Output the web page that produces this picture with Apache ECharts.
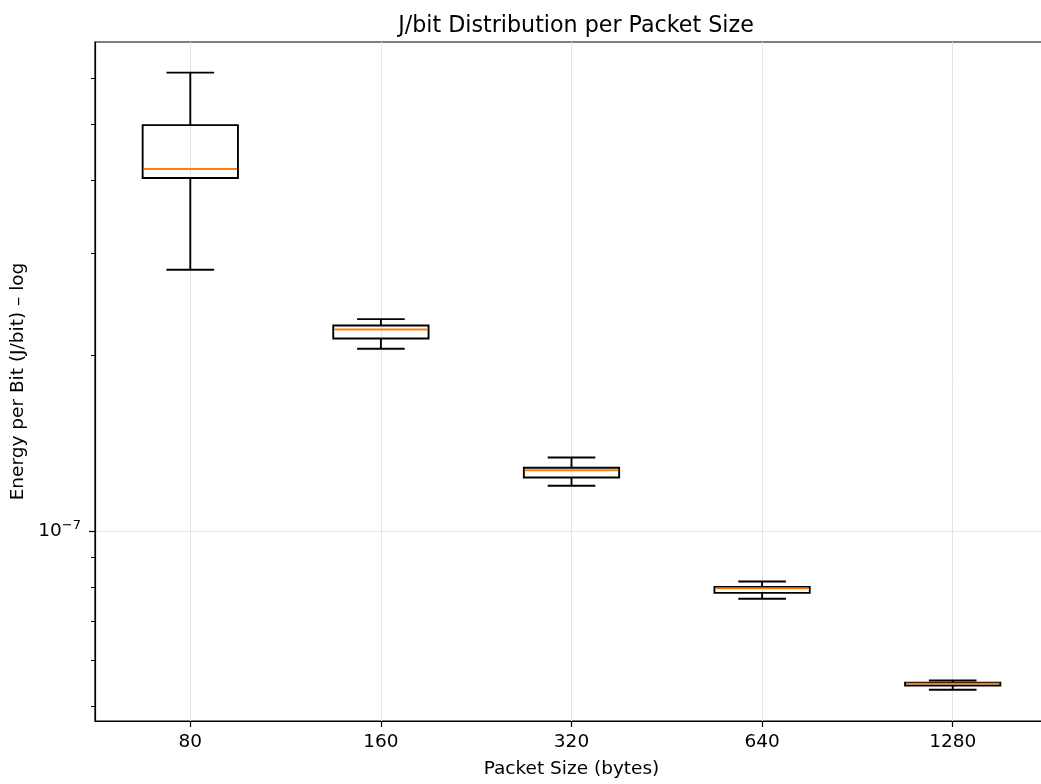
<!DOCTYPE html>
<html><head><meta charset="utf-8">
<script src="https://cdn.jsdelivr.net/npm/echarts@6/dist/echarts.min.js"></script>
<style>html,body{margin:0;padding:0;background:#fff;overflow:hidden;width:1041px;height:784px}#c{width:1048px;height:784px}</style>
</head><body><div id="c"></div>
<script>
const categories = ['80', '160', '320', '640', '1280'];
const whiskerLow  = [2.81e-7, 2.055e-7, 1.195e-7, 7.64e-8, 5.33e-8];
const q1          = [4.04e-7, 2.140e-7, 1.235e-7, 7.82e-8, 5.42e-8];
const median      = [4.185e-7, 2.218e-7, 1.271e-7, 7.96e-8, 5.46e-8];
const q3          = [4.98e-7, 2.253e-7, 1.283e-7, 8.01e-8, 5.48e-8];
const whiskerHigh = [6.13e-7, 2.311e-7, 1.336e-7, 8.18e-8, 5.53e-8];
const yMajorTicks = [1e-7];
const yMinorTicks = [5e-8, 6e-8, 7e-8, 8e-8, 9e-8, 2e-7, 3e-7, 4e-7, 5e-7, 6e-7];
const yMin = 4.71e-8, yMax = 6.92e-7;

const FONT = 'DejaVu Sans';
const boxData = categories.map((c, i) => [i, whiskerLow[i], q1[i], median[i], q3[i], whiskerHigh[i]]);

function renderBox(params, api) {
  const i = api.value(0);
  const bw = api.size([1, api.value(4)])[0];
  const half = bw * 0.25, cap = bw * 0.125;
  const pLo = api.coord([i, api.value(1)]);
  const pQ1 = api.coord([i, api.value(2)]);
  const pMed = api.coord([i, api.value(3)]);
  const pQ3 = api.coord([i, api.value(4)]);
  const pHi = api.coord([i, api.value(5)]);
  const x = pLo[0];
  const blk = {stroke: '#000', lineWidth: 1.9, fill: 'none'};
  return {type: 'group', children: [
    {type: 'line', shape: {x1: x, y1: pQ1[1], x2: x, y2: pLo[1]}, style: blk},
    {type: 'line', shape: {x1: x, y1: pQ3[1], x2: x, y2: pHi[1]}, style: blk},
    {type: 'line', shape: {x1: x - cap, y1: pLo[1], x2: x + cap, y2: pLo[1]}, style: blk},
    {type: 'line', shape: {x1: x - cap, y1: pHi[1], x2: x + cap, y2: pHi[1]}, style: blk},
    {type: 'rect', shape: {x: x - half, y: pQ3[1], width: 2 * half, height: pQ1[1] - pQ3[1]}, style: blk},
    {type: 'line', shape: {x1: x - half + 1, y1: pMed[1], x2: x + half - 1, y2: pMed[1]}, style: {stroke: '#ff7f0e', lineWidth: 1.9}}
  ]};
}

const chart = echarts.init(document.getElementById('c'), null, {renderer: 'canvas'});
chart.setOption({
  animation: false,
  backgroundColor: '#fff',
  textStyle: {fontFamily: FONT},
  title: {
    text: 'J/bit Distribution per Packet Size',
    left: 571, top: 10, textAlign: 'center',
    textStyle: {fontFamily: FONT, fontSize: 22.2, fontWeight: 'normal', color: '#000'}
  },
  grid: {left: 95, top: 42, bottom: 61, right: 0, show: true, borderColor: '#000', borderWidth: 1.2, backgroundColor: 'transparent'},
  xAxis: {
    type: 'category', data: categories, boundaryGap: true,
    name: 'Packet Size (bytes)', nameLocation: 'middle', nameGap: 39,
    nameTextStyle: {fontFamily: FONT, fontSize: 18.5, color: '#000'},
    axisLine: {show: true, lineStyle: {color: '#000', width: 1.2}},
    axisTick: {show: true, alignWithLabel: true, length: 6, lineStyle: {color: '#000', width: 1.2}},
    axisLabel: {fontFamily: FONT, fontSize: 18.5, color: '#000', margin: 12},
    splitLine: {show: true, alignWithLabel: true, lineStyle: {color: '#e3e3e3', width: 1}}
  },
  yAxis: [{
    type: 'log', logBase: 10, min: yMin, max: yMax, position: 'left',
    name: 'Energy per Bit (J/bit) – log', nameLocation: 'middle', nameGap: 64, nameRotate: 90,
    nameTextStyle: {fontFamily: FONT, fontSize: 18.5, color: '#000'},
    axisLine: {show: true, lineStyle: {color: '#000', width: 1.2}},
    axisTick: {show: true, customValues: yMajorTicks, length: 6, lineStyle: {color: '#000', width: 1.2}},
    axisLabel: {
      customValues: yMajorTicks, margin: 14, color: '#000',
      formatter: (v) => '{b|10}{s|−7}',
      rich: {
        b: {fontFamily: FONT, fontSize: 18.5, color: '#000'},
        s: {fontFamily: FONT, fontSize: 13, color: '#000', padding: [0, 0, 11, 0]}
      }
    },
    splitLine: {show: true, lineStyle: {color: '#e3e3e3', width: 1}}
  }, {
    type: 'log', logBase: 10, min: yMin, max: yMax, position: 'left',
    axisLine: {show: false},
    axisTick: {show: true, customValues: yMinorTicks, length: 4, lineStyle: {color: '#000', width: 1}},
    axisLabel: {show: false},
    splitLine: {show: false}
  }],
  series: [{
    type: 'custom', renderItem: renderBox, data: boxData,
    encode: {x: 0, y: [1, 2, 3, 4, 5]}, clip: false, z: 5
  }]
});
</script></body></html>
